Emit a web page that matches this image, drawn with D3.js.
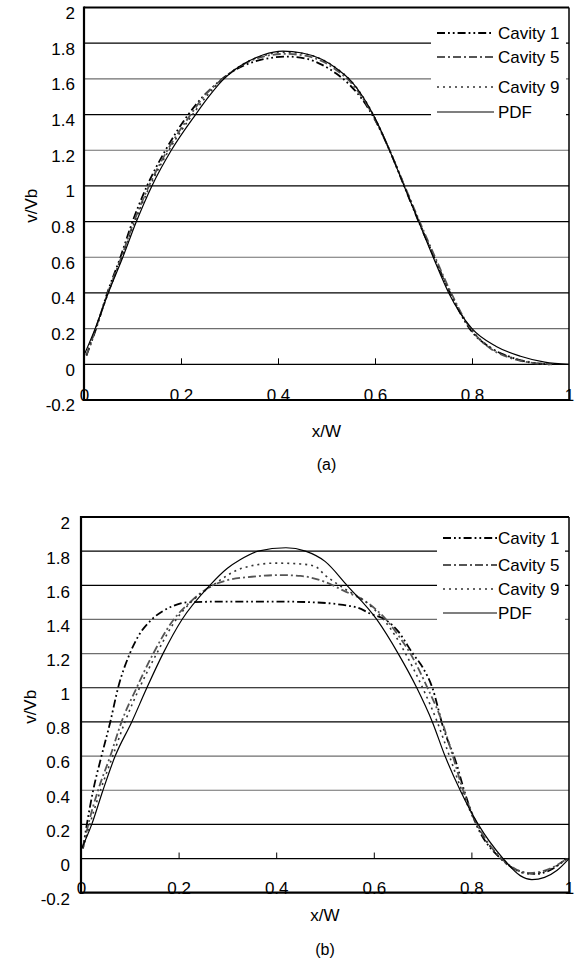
<!DOCTYPE html>
<html>
<head>
<meta charset="utf-8">
<script src="https://cdn.jsdelivr.net/npm/d3@7"></script>
<style>
  body { margin: 0; background: #fff; }
  svg { display: block; }
  text { font-family: "Liberation Sans", Arial, sans-serif; }
</style>
</head>
<body>
<div id="chart"></div>
<script>
// axis ticks
const xTicks = [0, 0.2, 0.4, 0.6, 0.8, 1];
const xTickLabels = ["0", "0.2", "0.4", "0.6", "0.8", "1"];
const yTicks = [-0.2, 0, 0.2, 0.4, 0.6, 0.8, 1, 1.2, 1.4, 1.6, 1.8, 2];
const yTickLabels = ["-0.2", "0", "0.2", "0.4", "0.6", "0.8", "1", "1.2", "1.4", "1.6", "1.8", "2"];
const seriesNames = ["Cavity 1", "Cavity 5", "Cavity 9", "PDF"];

// panel (a): [x/W, v/Vb]
const cav1A = [[0.005,0.05],[0.025,0.2],[0.048,0.4],[0.075,0.6],[0.1,0.8],[0.13,1.0],[0.168,1.2],[0.215,1.4],[0.245,1.5],[0.272,1.57],[0.3,1.63],[0.33,1.675],[0.37,1.71],[0.42,1.725],[0.46,1.712],[0.49,1.68],[0.52,1.63],[0.55,1.56],[0.575,1.48],[0.6,1.37],[0.63,1.2],[0.66,1.0],[0.69,0.8],[0.722,0.6],[0.755,0.4],[0.795,0.2],[0.84,0.09],[0.88,0.04],[0.92,0.01],[0.96,0.0]];
const cav5A = [[0.005,0.05],[0.024,0.2],[0.049,0.4],[0.077,0.6],[0.103,0.8],[0.134,1.0],[0.172,1.2],[0.22,1.4],[0.25,1.51],[0.277,1.58],[0.305,1.64],[0.335,1.69],[0.37,1.725],[0.415,1.74],[0.455,1.73],[0.49,1.7],[0.52,1.65],[0.55,1.58],[0.575,1.49],[0.6,1.375],[0.63,1.2],[0.661,1.0],[0.692,0.8],[0.724,0.6],[0.757,0.4],[0.797,0.2],[0.84,0.085],[0.88,0.035],[0.925,0.008],[0.965,0.0]];
const cav9A = [[0.005,0.05],[0.024,0.2],[0.05,0.4],[0.078,0.6],[0.105,0.8],[0.136,1.0],[0.175,1.2],[0.224,1.4],[0.255,1.51],[0.282,1.59],[0.31,1.65],[0.34,1.7],[0.37,1.73],[0.41,1.75],[0.45,1.742],[0.49,1.71],[0.52,1.66],[0.55,1.59],[0.575,1.5],[0.6,1.38],[0.63,1.2],[0.661,1.0],[0.691,0.8],[0.722,0.6],[0.755,0.4],[0.797,0.2],[0.84,0.09],[0.88,0.04],[0.925,0.01],[0.965,0.0]];
const pdfA = [[0,0.05],[0.023,0.2],[0.05,0.4],[0.08,0.6],[0.108,0.8],[0.14,1.0],[0.18,1.2],[0.23,1.4],[0.26,1.51],[0.285,1.59],[0.31,1.65],[0.34,1.7],[0.37,1.735],[0.41,1.755],[0.45,1.745],[0.49,1.71],[0.52,1.66],[0.55,1.59],[0.575,1.5],[0.6,1.38],[0.63,1.2],[0.66,1.0],[0.69,0.8],[0.72,0.6],[0.752,0.4],[0.8,0.2],[0.85,0.1],[0.9,0.045],[0.95,0.012],[1.0,0.0]];

// panel (b)
const cav1B = [[0.004,0.06],[0.012,0.2],[0.025,0.4],[0.042,0.6],[0.06,0.8],[0.076,1.0],[0.1,1.2],[0.117,1.3],[0.145,1.4],[0.168,1.45],[0.19,1.48],[0.217,1.5],[0.3,1.505],[0.4,1.505],[0.48,1.5],[0.537,1.485],[0.566,1.47],[0.596,1.43],[0.623,1.4],[0.65,1.33],[0.68,1.2],[0.70,1.12],[0.72,1.0],[0.742,0.77],[0.77,0.55],[0.785,0.4],[0.81,0.2],[0.86,0.0],[0.9,-0.075],[0.93,-0.09],[0.96,-0.07],[0.995,0.0]];
const cav5B = [[0.004,0.06],[0.015,0.2],[0.035,0.4],[0.06,0.6],[0.083,0.8],[0.114,1.0],[0.148,1.2],[0.19,1.4],[0.223,1.5],[0.27,1.6],[0.3,1.63],[0.35,1.65],[0.41,1.66],[0.45,1.655],[0.5,1.62],[0.537,1.57],[0.586,1.5],[0.625,1.4],[0.652,1.3],[0.675,1.2],[0.71,1.0],[0.74,0.8],[0.762,0.6],[0.783,0.4],[0.812,0.2],[0.862,0.0],[0.92,-0.085],[0.96,-0.06],[0.997,0.0]];
const cav9B = [[0.004,0.06],[0.018,0.2],[0.04,0.4],[0.065,0.6],[0.09,0.8],[0.12,1.0],[0.155,1.2],[0.195,1.4],[0.225,1.5],[0.27,1.6],[0.33,1.7],[0.4,1.73],[0.45,1.725],[0.48,1.71],[0.5,1.66],[0.54,1.58],[0.585,1.5],[0.62,1.4],[0.645,1.3],[0.665,1.2],[0.70,1.0],[0.73,0.8],[0.755,0.6],[0.78,0.4],[0.81,0.2],[0.86,0.0],[0.92,-0.09],[0.96,-0.065],[0.995,0.0]];
const pdfB = [[0,0.05],[0.022,0.2],[0.045,0.4],[0.07,0.6],[0.104,0.8],[0.135,1.0],[0.168,1.2],[0.207,1.4],[0.264,1.6],[0.3,1.7],[0.326,1.75],[0.363,1.8],[0.42,1.82],[0.46,1.8],[0.5,1.74],[0.545,1.6],[0.606,1.4],[0.65,1.2],[0.688,1.0],[0.72,0.8],[0.746,0.6],[0.777,0.4],[0.814,0.2],[0.865,0.0],[0.9,-0.1],[0.924,-0.123],[0.95,-0.11],[0.975,-0.07],[1.0,0.0]];

const styles = [
  { stroke: "#000", width: 1.8, dash: "8,3,1.8,3,1.8,3" },
  { stroke: "#555", width: 1.8, dash: "8,3,2,3" },
  { stroke: "#333", width: 1.6, dash: "2,4" },
  { stroke: "#000", width: 1.2, dash: null }
];

const svg = d3.select("#chart").append("svg")
  .attr("width", 578).attr("height", 966);

function drawPanel(p) {
  const x = d3.scaleLinear().domain([0, 1]).range([p.left, p.right]);
  const y = d3.scaleLinear().domain([-0.2, 2]).range([p.bottom, p.top]);
  const g = svg.append("g");

  // horizontal gridlines
  g.selectAll("line.grid")
    .data(yTicks.slice(1))
    .join("line")
    .attr("x1", p.left).attr("x2", p.right)
    .attr("y1", d => y(d)).attr("y2", d => y(d))
    .attr("stroke", d => p.gray.includes(d) ? "#6e6e6e" : "#000")
    .attr("stroke-width", d => d === 2 ? 2 : 1.2);

  // small ticks standing on the zero line
  g.append("g")
    .attr("transform", `translate(0,${y(0)})`)
    .call(d3.axisTop(x).tickValues([0.2, 0.4, 0.6, 0.8]).tickSize(6).tickFormat(""))
    .call(a => a.select(".domain").remove())
    .selectAll("line").attr("stroke", "#000");

  // y tick labels
  g.append("g")
    .attr("transform", `translate(${p.left},0)`)
    .call(d3.axisLeft(y).tickValues(yTicks).tickSize(0).tickPadding(p.yPad)
      .tickFormat((d, i) => yTickLabels[i]))
    .call(a => a.select(".domain").remove())
    .selectAll("text")
    .attr("font-size", 17).attr("fill", "#000")
    .attr("font-family", "Liberation Sans, Arial, sans-serif")
    .attr("dy", p.yDy);

  // curves
  const line = d3.line().x(d => x(d[0])).y(d => y(d[1])).curve(d3.curveMonotoneX);
  p.series.forEach((s, i) => {
    g.append("path")
      .datum(s)
      .attr("d", line)
      .attr("fill", "none")
      .attr("stroke", styles[i].stroke)
      .attr("stroke-width", styles[i].width)
      .attr("stroke-dasharray", styles[i].dash);
  });

  // legend
  g.append("rect")
    .attr("x", p.legend.x0).attr("y", p.legend.y0)
    .attr("width", p.legend.x1 - p.legend.x0).attr("height", p.legend.y1 - p.legend.y0)
    .attr("fill", "#fff");
  seriesNames.forEach((name, i) => {
    const ly = p.legend.rows[i];
    g.append("line")
      .attr("x1", p.legend.lx0).attr("x2", p.legend.lx1)
      .attr("y1", ly).attr("y2", ly)
      .attr("stroke", styles[i].stroke)
      .attr("stroke-width", styles[i].width)
      .attr("stroke-dasharray", styles[i].dash);
    g.append("text")
      .attr("x", p.legend.tx).attr("y", ly + 6)
      .attr("font-size", 17)
      .text(name);
  });

  // x tick labels, sitting on the bottom border
  g.append("g")
    .attr("transform", `translate(0,${p.bottom})`)
    .call(d3.axisTop(x).tickValues(xTicks).tickSize(0)
      .tickFormat((d, i) => xTickLabels[i]))
    .call(a => a.select(".domain").remove())
    .selectAll("text")
    .attr("y", 1)
    .attr("font-size", 17).attr("fill", "#000")
    .attr("font-family", "Liberation Sans, Arial, sans-serif");

  // frame
  g.append("line").attr("x1", p.left).attr("x2", p.left)
    .attr("y1", p.top - 1).attr("y2", p.bottom + 1)
    .attr("stroke", "#000").attr("stroke-width", 2.2);
  g.append("line").attr("x1", p.left).attr("x2", p.right + 1)
    .attr("y1", p.bottom).attr("y2", p.bottom)
    .attr("stroke", "#000").attr("stroke-width", 2.2);
  g.append("line").attr("x1", p.right).attr("x2", p.right)
    .attr("y1", p.top).attr("y2", p.bottom)
    .attr("stroke", "#000").attr("stroke-width", 1.5);

  // axis titles
  g.append("text")
    .attr("transform", `translate(${p.yTitleX},${(p.top + p.bottom) / 2 + 2}) rotate(-90)`)
    .attr("text-anchor", "middle")
    .attr("font-size", 17)
    .text("v/Vb");
  g.append("text")
    .attr("x", (p.left + p.right) / 2).attr("y", p.xTitleY)
    .attr("text-anchor", "middle")
    .attr("font-size", 17)
    .text("x/W");
  g.append("text")
    .attr("x", (p.left + p.right) / 2).attr("y", p.captionY)
    .attr("text-anchor", "middle")
    .attr("font-family", "Liberation Serif, Times New Roman, serif")
    .attr("font-size", 16)
    .text(p.caption);
}

drawPanel({
  left: 84, right: 569, top: 7.5, bottom: 400,
  series: [cav1A, cav5A, cav9A, pdfA],
  gray: [1.6, 1.2, 0.6, 0.2],
  yPad: 9, yDy: "0.64em",
  yTitleX: 37, xTitleY: 437, captionY: 470, caption: "(a)",
  legend: { x0: 431, x1: 566, y0: 12, y1: 127, lx0: 437, lx1: 494, tx: 498, rows: [33, 57, 87, 112] }
});

drawPanel({
  left: 81, right: 569, top: 517, bottom: 892.7,
  series: [cav1B, cav5B, cav9B, pdfB],
  gray: [1.4, 1.2, 0.6, 0.4],
  yPad: 11, yDy: "0.7em",
  yTitleX: 36, xTitleY: 921, captionY: 955, caption: "(b)",
  legend: { x0: 437, x1: 565, y0: 522, y1: 627, lx0: 443, lx1: 497, tx: 498, rows: [538, 565, 589, 613] }
});
</script>
</body>
</html>
